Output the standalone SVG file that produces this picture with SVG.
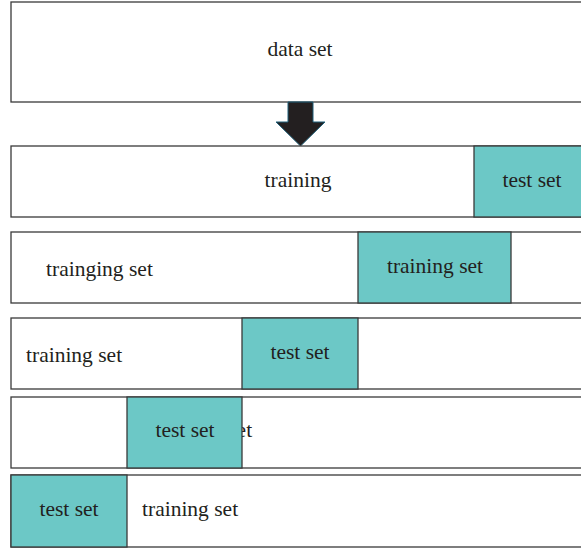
<svg xmlns="http://www.w3.org/2000/svg" width="581" height="548" viewBox="0 0 581 548">
<style>
.box{fill:#fff;stroke:#3a3a3a;stroke-width:1.3}
.teal{fill:#6cc8c6;stroke:#3a3a3a;stroke-width:1.3}
.t{font-family:"Liberation Serif",serif;font-size:21.5px;fill:#231f20}
.c{text-anchor:middle}
</style>
<rect width="581" height="548" fill="#fff"/>
<g id="dataset">
<rect class="box" x="11" y="2" width="580" height="100"/>
<text class="t c" x="300" y="56">data set</text>
</g>
<g id="connectors">
<path d="M288,102 H313 V122 H325 L300.5,146 L276,122 H288 Z" fill="#231f20" stroke="#1f5f78" stroke-width="1"/>
</g>
<g id="split1">
<rect class="box" x="11" y="146" width="580" height="71"/>
<text class="t c" x="298" y="187">training</text>
<rect class="teal" x="474" y="146" width="117" height="71"/>
<text class="t c" x="532" y="187">test set</text>
</g>
<g id="split2">
<rect class="box" x="11" y="232" width="580" height="71"/>
<text class="t" x="46" y="276">trainging set</text>
<rect class="teal" x="358" y="232" width="153" height="71"/>
<text class="t c" x="435" y="273">training set</text>
</g>
<g id="split3">
<rect class="box" x="11" y="318" width="580" height="71"/>
<text class="t" x="26" y="362">training set</text>
<rect class="teal" x="242" y="318" width="116" height="71"/>
<text class="t c" x="300" y="359">test set</text>
</g>
<g id="split4">
<rect class="box" x="11" y="397" width="580" height="71"/>
<text class="t" x="156" y="437">training set</text>
<rect class="teal" x="127" y="397" width="115" height="71"/>
<text class="t c" x="185" y="437">test set</text>
</g>
<g id="split5">
<rect class="box" x="11" y="475" width="580" height="72"/>
<rect class="teal" x="11" y="475" width="116" height="72"/>
<text class="t c" x="69" y="516">test set</text>
<text class="t" x="142" y="516">training set</text>
</g>
</svg>
